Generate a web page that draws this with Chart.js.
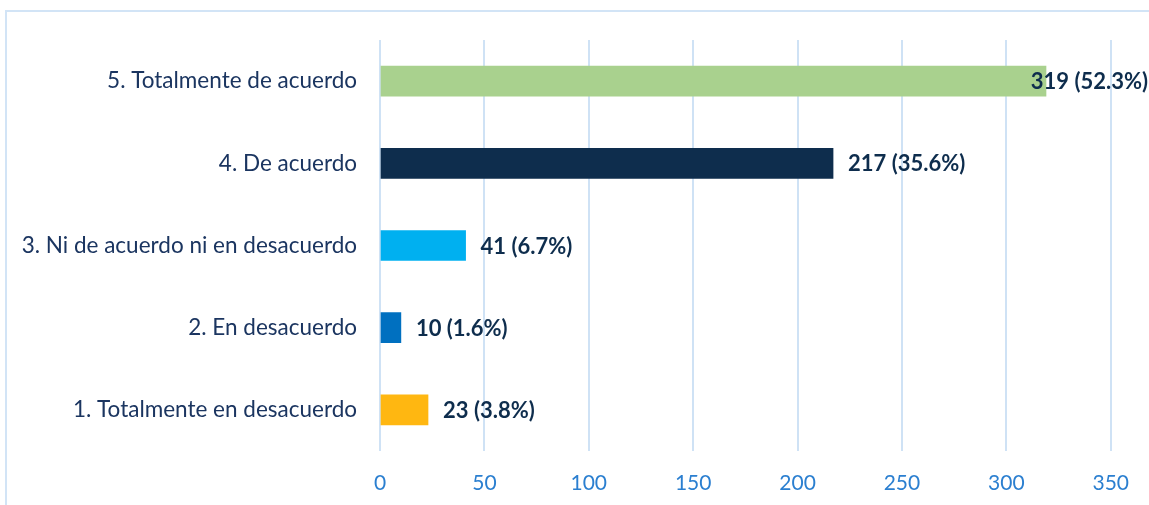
<!DOCTYPE html>
<html lang="es">
  <head>
    <meta charset="UTF-8" />
    <title>Respuestas</title>
    <script src="https://cdn.jsdelivr.net/npm/chart.js"></script>
    <style>
      html, body { margin: 0; padding: 0; background: #fff; }
      #wrap { width: 1149px; height: 505px; position: relative; }
    </style>
  </head>
  <body>
    <div id="wrap"><canvas id="myChart"></canvas></div>
    <script>
      // datos (de arriba hacia abajo)
      const categorias = [
        "5. Totalmente de acuerdo",
        "4. De acuerdo",
        "3. Ni de acuerdo ni en desacuerdo",
        "2. En desacuerdo",
        "1. Totalmente en desacuerdo",
      ];
      const valores = [319, 217, 41, 10, 23];
      const porcentajes = ["52.3", "35.6", "6.7", "1.6", "3.8"];
      const colores = ["#a9d18e", "#0e2d4d", "#00b0f0", "#0070c0", "#ffb711"];
      const ticksX = [0, 50, 100, 150, 200, 250, 300, 350];

      const fuente = "Lato, 'Open Sans', sans-serif";

      // marco azul claro (arriba e izquierda)
      const marco = {
        id: "marco",
        beforeDraw(chart) {
          const c = chart.ctx;
          c.save();
          c.strokeStyle = "#d2e4f6";
          c.lineWidth = 2;
          c.beginPath();
          c.moveTo(6, 505);
          c.lineTo(6, 11);
          c.lineTo(1149, 11);
          c.stroke();
          c.restore();
        },
      };

      // etiquetas "valor (pct%)" al final de cada barra
      const etiquetas = {
        id: "etiquetas",
        afterDatasetsDraw(chart) {
          const c = chart.ctx;
          const meta = chart.getDatasetMeta(0);
          c.save();
          c.font = "bold 22px " + fuente;
          c.fillStyle = "#0e2d4d";
          c.textBaseline = "middle";
          meta.data.forEach((bar, i) => {
            const txt = valores[i] + " (" + porcentajes[i] + "%)";
            const w = c.measureText(txt).width;
            let x = bar.x + 15;
            if (x + w > chart.width - 1) x = chart.width - 1 - w;
            c.fillText(txt, x, bar.y + 1);
          });
          c.restore();
        },
      };

      const ctx = document.getElementById("myChart").getContext("2d");
      const myChart = new Chart(ctx, {
        type: "bar",
        data: {
          labels: categorias,
          datasets: [
            {
              data: valores,
              backgroundColor: colores,
              barThickness: 30,
            },
          ],
        },
        options: {
          indexAxis: "y",
          responsive: true,
          maintainAspectRatio: false,
          animation: false,
          layout: { padding: { top: 40, right: 36, left: 0, bottom: 0 } },
          plugins: {
            legend: { display: false },
            tooltip: { enabled: false },
          },
          scales: {
            x: {
              min: 0,
              max: 350,
              afterBuildTicks: (s) => {
                s.ticks = ticksX.map((v) => ({ value: v }));
              },
              afterFit: (s) => {
                s.height = 54;
              },
              grid: { color: "#cfe2f5", lineWidth: 2, drawTicks: false },
              border: { display: false },
              ticks: {
                padding: 20,
                color: "#2b7fd0",
                font: { family: fuente, size: 21 },
              },
            },
            y: {
              afterFit: (s) => {
                s.width = 380;
              },
              grid: { display: false, drawTicks: false },
              border: { display: false },
              ticks: {
                padding: 23,
                color: "#1b3560",
                font: { family: fuente, size: 22.5 },
              },
            },
          },
        },
        plugins: [marco, etiquetas],
      });
    </script>
  </body>
</html>
